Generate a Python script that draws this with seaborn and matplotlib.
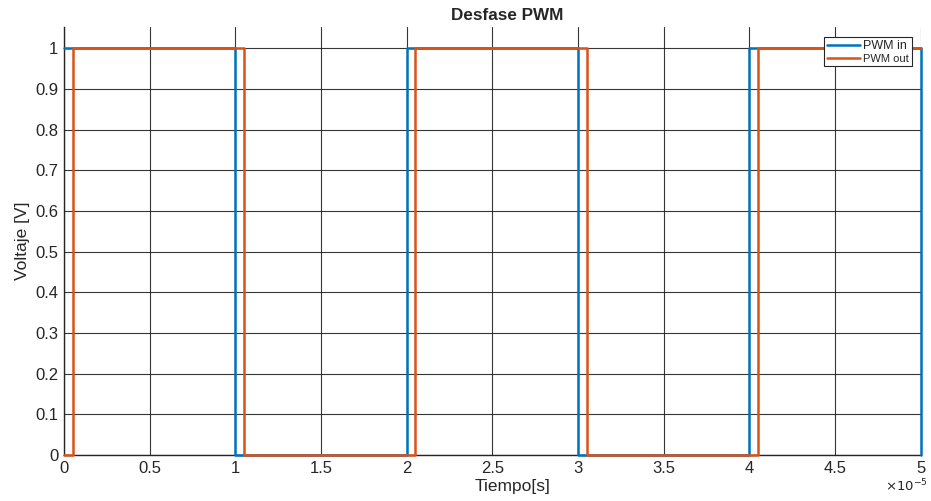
import matplotlib
matplotlib.use("Agg")
import matplotlib.pyplot as plt
import seaborn as sns
import pandas as pd

# Data (time in units of 1e-5 s)
t_in = [0, 1, 1, 2, 2, 3, 3, 4, 4, 5, 5]
v_in = [1, 1, 0, 0, 1, 1, 0, 0, 1, 1, 0]
t_out = [0, 0.05, 0.05, 1.05, 1.05, 2.05, 2.05, 3.05, 3.05, 4.05, 4.05, 5]
v_out = [0, 0, 1, 1, 0, 0, 1, 1, 0, 0, 1, 1]
x_ticks = [0, 0.5, 1, 1.5, 2, 2.5, 3, 3.5, 4, 4.5, 5]
x_ticklabels = ['0', '0.5', '1', '1.5', '2', '2.5', '3', '3.5', '4', '4.5', '5']
y_ticks = [0, 0.1, 0.2, 0.3, 0.4, 0.5, 0.6, 0.7, 0.8, 0.9, 1]
y_ticklabels = ['0', '0.1', '0.2', '0.3', '0.4', '0.5', '0.6', '0.7', '0.8', '0.9', '1']
scale = 1e-5

sns.set_theme(style="white")
plt.rcParams['font.family'] = ['Liberation Sans', 'DejaVu Sans']

df_in = pd.DataFrame({'t': [t * scale for t in t_in], 'v': v_in})
df_out = pd.DataFrame({'t': [t * scale for t in t_out], 'v': v_out})

fig = plt.figure(figsize=(9.31, 5.01), dpi=100)
ax = fig.add_axes([0.0687, 0.0918, 0.9203, 0.8542])

sns.lineplot(data=df_in, x='t', y='v', ax=ax, sort=False, estimator=None,
             color='#0072BD', linewidth=1.8, label='PWM in', zorder=3)
sns.lineplot(data=df_out, x='t', y='v', ax=ax, sort=False, estimator=None,
             color='#D95319', linewidth=1.8, label='PWM out', zorder=3)
for ln in ax.get_lines():
    ln.set_clip_on(False)

ax.set_xlim(0, 5 * scale)
ax.set_ylim(0, 1.052)
ax.set_xticks([x * scale for x in x_ticks])
ax.set_xticklabels(x_ticklabels)
ax.set_yticks(y_ticks)
ax.set_yticklabels(y_ticklabels)
ax.tick_params(axis='both', labelsize=12, colors='#262626', direction='in',
               length=3, width=0.8, pad=4)
for lab in ax.get_xticklabels() + ax.get_yticklabels():
    lab.set_color('#262626')

ax.grid(True, color='#202020', linewidth=0.8, alpha=0.9)
ax.set_axisbelow(True)
for s in ['top', 'right']:
    ax.spines[s].set_visible(False)
for s in ['left', 'bottom']:
    ax.spines[s].set_color('#262626')
    ax.spines[s].set_linewidth(1.0)

ax.set_title('Desfase PWM', fontsize=12.3, fontweight='bold', pad=5, x=0.517)
ax.set_xlabel('Tiempo[s]', fontsize=12.5, color='#262626', labelpad=1)
ax.xaxis.set_label_coords(0.524, -0.056, transform=ax.transAxes)
ax.xaxis.label.set_va('top')
ax.set_ylabel('Voltaje [V]', fontsize=12.5, color='#262626', labelpad=4)
ax.text(1.008, -0.052, r'$\times10^{-5}$', transform=ax.transAxes, ha='right',
        va='top', fontsize=9.5, color='#262626')

leg = ax.legend(loc='upper right', bbox_to_anchor=(0.9895, 0.9766), fontsize=8,
                frameon=True, fancybox=False, edgecolor='#262626',
                borderpad=0.25, labelspacing=0.15, handlelength=3.0,
                handletextpad=0.25, borderaxespad=0)
leg.get_frame().set_linewidth(0.8)
leg.get_frame().set_alpha(1)
leg.get_texts()[0].set_fontsize(9)

fig.savefig('out.png', dpi=100)
